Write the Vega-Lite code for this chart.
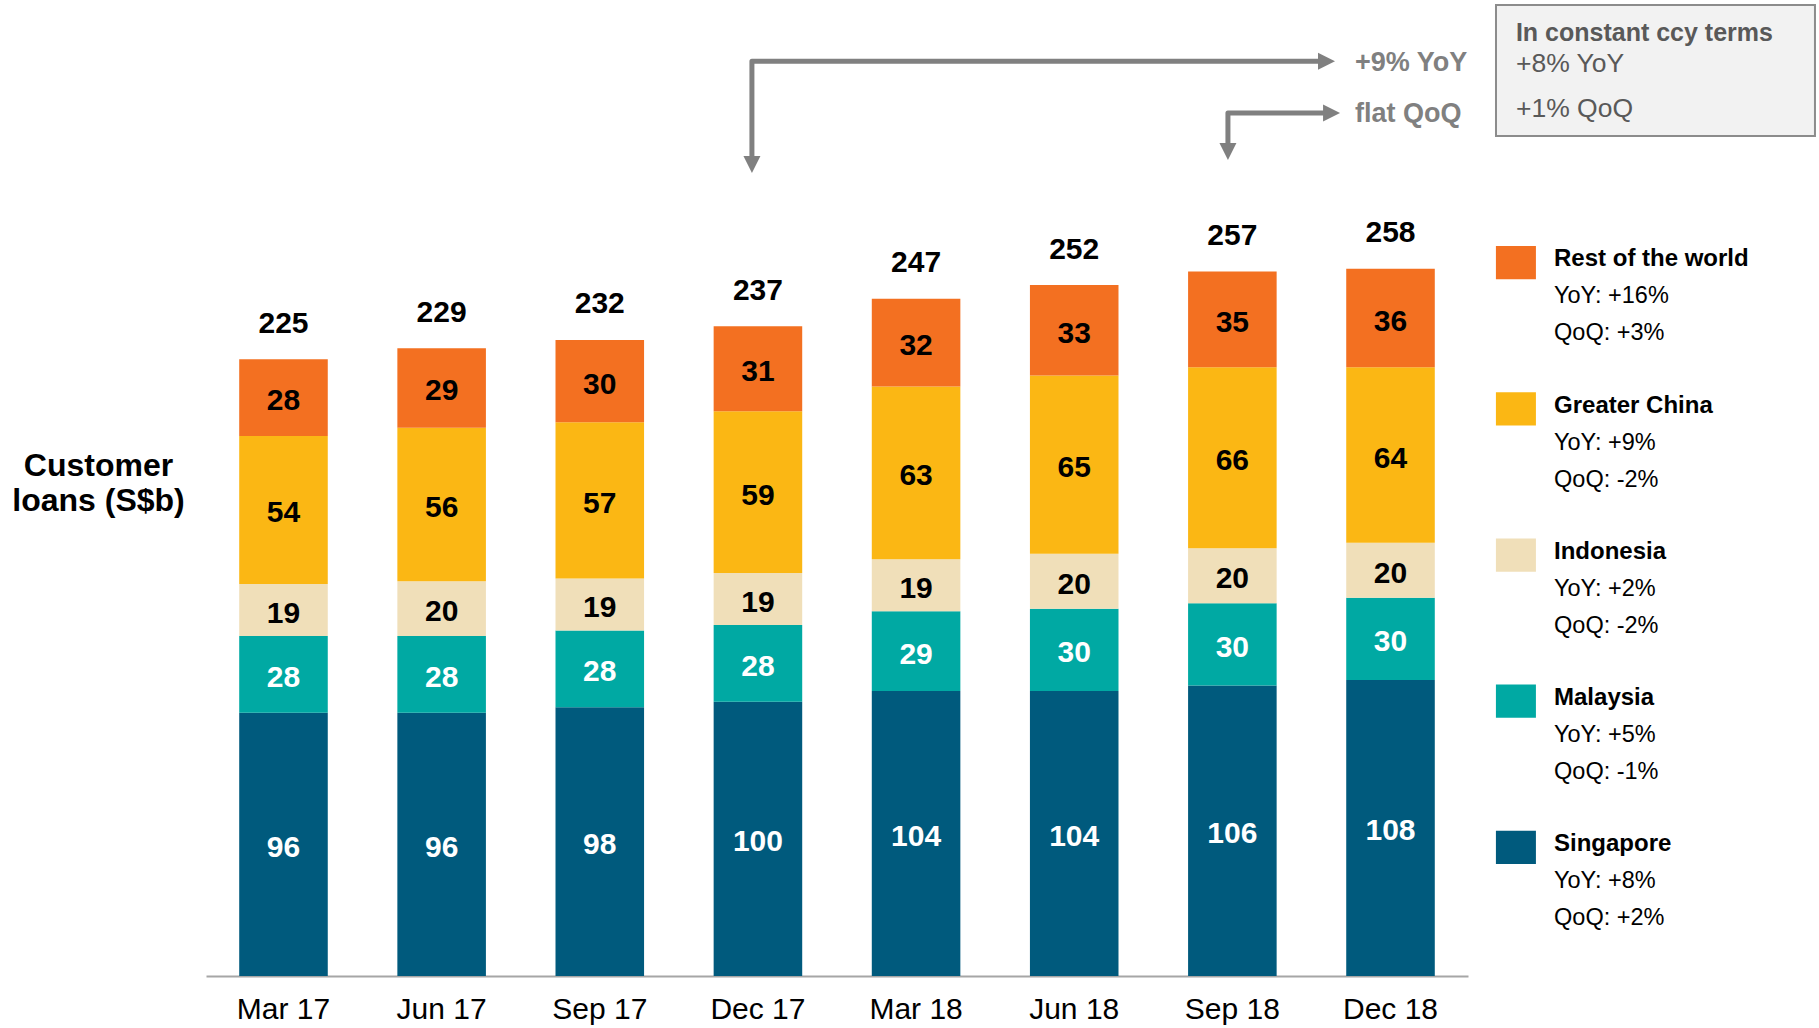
{
  "$schema": "https://vega.github.io/schema/vega-lite/v6.json",
  "width": 1262,
  "height": 976,
  "autosize": {"type": "none"},
  "padding": {"left": 206, "top": 0, "right": 351, "bottom": 52},
  "background": "white",
  "config": {"view": {"stroke": null}, "font": "Liberation Sans", "text": {"font": "Liberation Sans"}},
  "datasets": {
    "loans": [
      {"q": "Mar 17", "r": "Singapore", "k": 1, "v": 96},
      {"q": "Mar 17", "r": "Malaysia", "k": 2, "v": 28},
      {"q": "Mar 17", "r": "Indonesia", "k": 3, "v": 19},
      {"q": "Mar 17", "r": "Greater China", "k": 4, "v": 54},
      {"q": "Mar 17", "r": "Rest of the world", "k": 5, "v": 28},
      {"q": "Jun 17", "r": "Singapore", "k": 1, "v": 96},
      {"q": "Jun 17", "r": "Malaysia", "k": 2, "v": 28},
      {"q": "Jun 17", "r": "Indonesia", "k": 3, "v": 20},
      {"q": "Jun 17", "r": "Greater China", "k": 4, "v": 56},
      {"q": "Jun 17", "r": "Rest of the world", "k": 5, "v": 29},
      {"q": "Sep 17", "r": "Singapore", "k": 1, "v": 98},
      {"q": "Sep 17", "r": "Malaysia", "k": 2, "v": 28},
      {"q": "Sep 17", "r": "Indonesia", "k": 3, "v": 19},
      {"q": "Sep 17", "r": "Greater China", "k": 4, "v": 57},
      {"q": "Sep 17", "r": "Rest of the world", "k": 5, "v": 30},
      {"q": "Dec 17", "r": "Singapore", "k": 1, "v": 100},
      {"q": "Dec 17", "r": "Malaysia", "k": 2, "v": 28},
      {"q": "Dec 17", "r": "Indonesia", "k": 3, "v": 19},
      {"q": "Dec 17", "r": "Greater China", "k": 4, "v": 59},
      {"q": "Dec 17", "r": "Rest of the world", "k": 5, "v": 31},
      {"q": "Mar 18", "r": "Singapore", "k": 1, "v": 104},
      {"q": "Mar 18", "r": "Malaysia", "k": 2, "v": 29},
      {"q": "Mar 18", "r": "Indonesia", "k": 3, "v": 19},
      {"q": "Mar 18", "r": "Greater China", "k": 4, "v": 63},
      {"q": "Mar 18", "r": "Rest of the world", "k": 5, "v": 32},
      {"q": "Jun 18", "r": "Singapore", "k": 1, "v": 104},
      {"q": "Jun 18", "r": "Malaysia", "k": 2, "v": 30},
      {"q": "Jun 18", "r": "Indonesia", "k": 3, "v": 20},
      {"q": "Jun 18", "r": "Greater China", "k": 4, "v": 65},
      {"q": "Jun 18", "r": "Rest of the world", "k": 5, "v": 33},
      {"q": "Sep 18", "r": "Singapore", "k": 1, "v": 106},
      {"q": "Sep 18", "r": "Malaysia", "k": 2, "v": 30},
      {"q": "Sep 18", "r": "Indonesia", "k": 3, "v": 20},
      {"q": "Sep 18", "r": "Greater China", "k": 4, "v": 66},
      {"q": "Sep 18", "r": "Rest of the world", "k": 5, "v": 35},
      {"q": "Dec 18", "r": "Singapore", "k": 1, "v": 108},
      {"q": "Dec 18", "r": "Malaysia", "k": 2, "v": 30},
      {"q": "Dec 18", "r": "Indonesia", "k": 3, "v": 20},
      {"q": "Dec 18", "r": "Greater China", "k": 4, "v": 64},
      {"q": "Dec 18", "r": "Rest of the world", "k": 5, "v": 36}
    ],
    "legend": [
      {"r": "Rest of the world", "yoy": "YoY: +16%", "qoq": "QoQ: +3%"},
      {"r": "Greater China", "yoy": "YoY: +9%", "qoq": "QoQ: -2%"},
      {"r": "Indonesia", "yoy": "YoY: +2%", "qoq": "QoQ: -2%"},
      {"r": "Malaysia", "yoy": "YoY: +5%", "qoq": "QoQ: -1%"},
      {"r": "Singapore", "yoy": "YoY: +8%", "qoq": "QoQ: +2%"}
    ],
    "arrows": [
      {"a": 1, "o": 1, "x": 2.962, "y": 298.7},
      {"a": 1, "o": 2, "x": 2.962, "y": 333.7},
      {"a": 1, "o": 3, "x": 6.548, "y": 333.7},
      {"a": 2, "o": 1, "x": 5.972, "y": 303.4},
      {"a": 2, "o": 2, "x": 5.972, "y": 314.8},
      {"a": 2, "o": 3, "x": 6.580, "y": 314.8}
    ],
    "heads": [
      {"d": "right", "x": 6.649, "y": 333.7},
      {"d": "down", "x": 2.962, "y": 292.9},
      {"d": "right", "x": 6.681, "y": 314.8},
      {"d": "down", "x": 5.972, "y": 297.6}
    ],
    "notes": [
      {"t": "+9% YoY", "x": 6.775, "y": 333.0},
      {"t": "flat QoQ", "x": 6.775, "y": 314.4}
    ]
  },
  "layer": [
    {
      "data": {"name": "loans"},
      "encoding": {
        "x": {
          "field": "q", "type": "nominal",
          "sort": ["Mar 17", "Jun 17", "Sep 17", "Dec 17", "Mar 18", "Jun 18", "Sep 18", "Dec 18"],
          "scale": {"paddingInner": 0.44, "paddingOuter": 0.21},
          "axis": {
            "title": null, "labelAngle": 0, "labelFontSize": 30, "labelFont": "Liberation Sans",
            "labelColor": "black", "labelPadding": 18.5, "ticks": false, "tickSize": 0,
            "domainColor": "#a6a6a6", "domainWidth": 2
          }
        }
      },
      "layer": [
        {
          "mark": {"type": "bar"},
          "encoding": {
            "y": {
              "field": "v", "type": "quantitative", "stack": "zero",
              "scale": {"domain": [0, 356], "nice": false, "zero": false},
              "axis": {
                "title": ["Customer", "loans (S$b)"], "labels": false, "ticks": false, "domain": false, "grid": false,
                "titleAngle": 0, "titleX": -108, "titleY": 465.5, "titleAlign": "center", "titleBaseline": "middle",
                "titleFontSize": 32, "titleFontWeight": "bold", "titleLineHeight": 35, "titleColor": "black",
                "titleFont": "Liberation Sans"
              }
            },
            "color": {
              "field": "r", "type": "nominal",
              "scale": {
                "domain": ["Singapore", "Malaysia", "Indonesia", "Greater China", "Rest of the world"],
                "range": ["#005a7d", "#00a9a3", "#f0dfb9", "#fbb714", "#f37021"]
              },
              "legend": null
            },
            "order": {"field": "k", "type": "quantitative"}
          }
        },
        {
          "mark": {"type": "text", "fontSize": 30, "fontWeight": "bold", "baseline": "middle", "align": "center", "dy": 3.5},
          "encoding": {
            "y": {"field": "v", "type": "quantitative", "stack": "zero", "bandPosition": 0.5},
            "order": {"field": "k", "type": "quantitative"},
            "text": {"field": "v", "type": "quantitative"},
            "color": {
              "condition": {"test": "datum.r === 'Singapore' || datum.r === 'Malaysia'", "value": "white"},
              "value": "black"
            }
          }
        },
        {
          "transform": [{"aggregate": [{"op": "sum", "field": "v", "as": "tot"}], "groupby": ["q"]}],
          "mark": {"type": "text", "fontSize": 30, "fontWeight": "bold", "baseline": "alphabetic", "align": "center", "dy": -26.5, "color": "black"},
          "encoding": {
            "y": {"field": "tot", "type": "quantitative"},
            "text": {"field": "tot", "type": "quantitative"}
          }
        }
      ]
    },
    {
      "layer": [
        {
          "data": {"name": "arrows"},
          "mark": {"type": "line", "color": "#808080", "strokeWidth": 5, "strokeCap": "butt", "strokeJoin": "round"},
          "encoding": {
            "x": {"field": "x", "type": "quantitative", "scale": {"domain": [-0.49, 7.49], "nice": false, "zero": false}, "axis": null},
            "y": {"field": "y", "type": "quantitative", "scale": {"domain": [0, 356], "nice": false, "zero": false}, "axis": null},
            "detail": {"field": "a"},
            "order": {"field": "o", "type": "quantitative"}
          }
        },
        {
          "data": {"name": "heads"},
          "mark": {"type": "point", "filled": true, "opacity": 1, "color": "#808080", "size": 289, "strokeWidth": 0},
          "encoding": {
            "x": {"field": "x", "type": "quantitative"},
            "y": {"field": "y", "type": "quantitative"},
            "shape": {
              "field": "d", "type": "nominal",
              "scale": {"domain": ["right", "down"], "range": ["M0,0L-2,-1L-2,1Z", "M0,0L-1,-2L1,-2Z"]},
              "legend": null
            }
          }
        },
        {
          "data": {"name": "notes"},
          "mark": {"type": "text", "fontSize": 27, "fontWeight": "bold", "color": "#808080", "align": "left", "baseline": "middle"},
          "encoding": {
            "x": {"field": "x", "type": "quantitative"},
            "y": {"field": "y", "type": "quantitative"},
            "text": {"field": "t"}
          }
        },
        {
          "data": {"values": [{"box": "constant ccy"}]},
          "mark": {"type": "rect", "fill": "#f2f2f2", "stroke": "#8c8c8c", "strokeWidth": 2},
          "encoding": {
            "x": {"datum": 7.667, "type": "quantitative"},
            "x2": {"datum": 9.684},
            "y": {"datum": 354.2, "type": "quantitative"},
            "y2": {"datum": 306.4}
          }
        },
        {
          "data": {"values": [{"box": "constant ccy"}]},
          "mark": {"type": "text", "fontSize": 25, "fontWeight": "bold", "color": "#595959", "align": "left", "baseline": "middle"},
          "encoding": {
            "x": {"datum": 7.793, "type": "quantitative"},
            "y": {"datum": 343.8, "type": "quantitative"},
            "text": {"value": "In constant ccy terms"}
          }
        },
        {
          "data": {"values": [{"box": "constant ccy"}]},
          "mark": {"type": "text", "fontSize": 26.5, "color": "#595959", "align": "left", "baseline": "middle"},
          "encoding": {
            "x": {"datum": 7.793, "type": "quantitative"},
            "y": {"datum": 332.5, "type": "quantitative"},
            "text": {"value": "+8% YoY"}
          }
        },
        {
          "data": {"values": [{"box": "constant ccy"}]},
          "mark": {"type": "text", "fontSize": 26.5, "color": "#595959", "align": "left", "baseline": "middle"},
          "encoding": {
            "x": {"datum": 7.793, "type": "quantitative"},
            "y": {"datum": 316.1, "type": "quantitative"},
            "text": {"value": "+1% QoQ"}
          }
        }
      ]
    },
    {
      "data": {"name": "legend"},
      "encoding": {
        "y": {
          "field": "r", "type": "nominal",
          "sort": ["Rest of the world", "Greater China", "Indonesia", "Malaysia", "Singapore"],
          "scale": {"type": "point", "padding": 0, "range": [262.7, 847.4]},
          "axis": null
        }
      },
      "layer": [
        {
          "mark": {"type": "point", "filled": true, "opacity": 1, "size": 1600, "shape": "M-1,-0.83H1V0.83H-1Z", "strokeWidth": 0},
          "encoding": {
            "x": {"datum": 7.793, "type": "quantitative", "scale": {"domain": [-0.49, 7.49], "nice": false, "zero": false}, "axis": null},
            "color": {"field": "r", "type": "nominal", "legend": null}
          }
        },
        {
          "mark": {"type": "text", "fontSize": 24, "fontWeight": "bold", "color": "black", "align": "left", "baseline": "middle", "dy": -3.3},
          "encoding": {
            "x": {"datum": 8.034, "type": "quantitative"},
            "text": {"field": "r"}
          }
        },
        {
          "mark": {"type": "text", "fontSize": 23.5, "color": "black", "align": "left", "baseline": "middle", "dy": 33.7},
          "encoding": {
            "x": {"datum": 8.034, "type": "quantitative"},
            "text": {"field": "yoy"}
          }
        },
        {
          "mark": {"type": "text", "fontSize": 23.5, "color": "black", "align": "left", "baseline": "middle", "dy": 70.7},
          "encoding": {
            "x": {"datum": 8.034, "type": "quantitative"},
            "text": {"field": "qoq"}
          }
        }
      ]
    }
  ],
  "resolve": {"scale": {"x": "independent", "y": "independent"}, "axis": {"x": "independent", "y": "independent"}}
}
